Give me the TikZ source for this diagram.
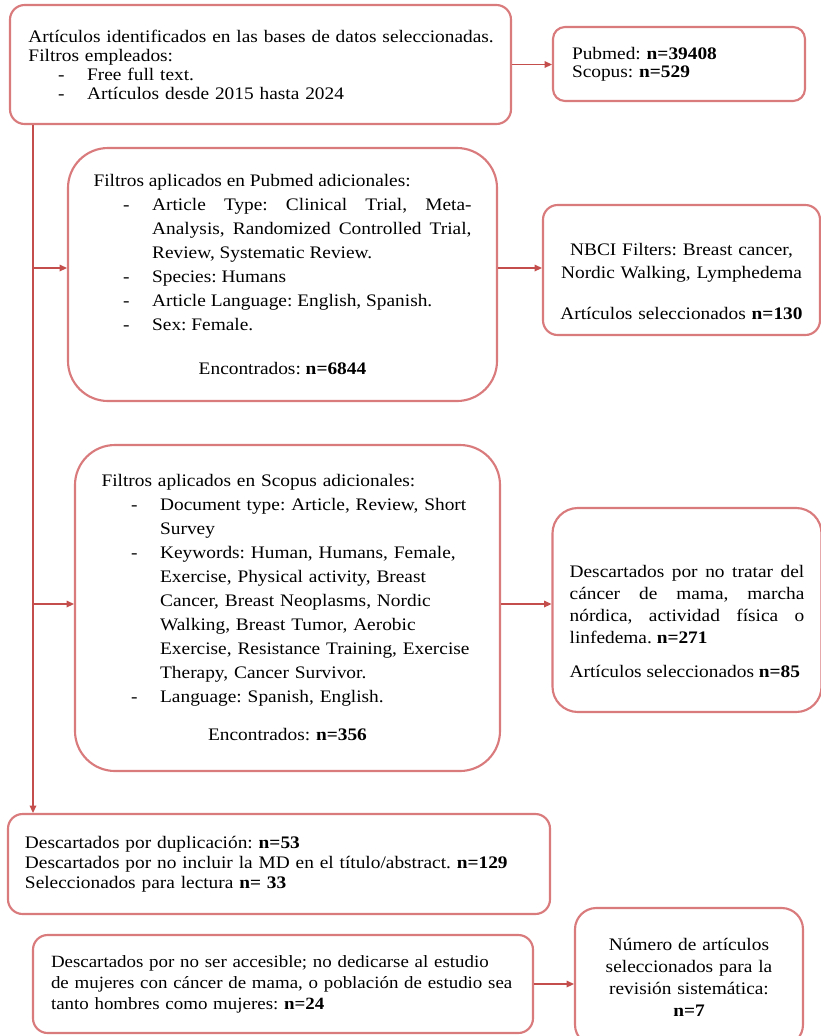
\documentclass[tikz,border=0pt]{standalone}
\usepackage{fontspec}
\setmainfont{Liberation Serif}[FakeStretch=1.1]
\usetikzlibrary{arrows.meta, positioning}
\definecolor{borde}{RGB}{217,122,124}
\definecolor{rojo}{RGB}{196,78,76}
\newcommand{\guion}[1]{\par{\leftskip=44pt\noindent\llap{-\hspace{17pt}}#1\par}}
\frenchspacing

\begin{document}
\begin{tikzpicture}[x=0.75pt, y=-0.75pt,
    caja/.style={draw=borde, line width=1.6pt, rounded corners=#1, inner sep=0pt},
    caja/.default=11pt,
    flecha/.style={draw=rojo, line width=0.9pt, -{Triangle[length=5.5pt, width=5pt]}},
    letra/.style={font=\fontsize{13.2}{#1}\selectfont}]
    \useasboundingbox (0,0) rectangle (821,1036);

    % Boxes
    \node[caja, minimum width=375.75pt, minimum height=89.25pt, text width=348pt, align=left, letra=14.25pt] (ident) at (260.5,64.5)
        {\mbox{Artículos identificados en las bases de datos seleccionadas.}\\ Filtros empleados:
         \guion{Free full text.}
         \guion{Artículos desde 2015 hasta 2024}};
    \node[caja=9pt, minimum width=189pt, minimum height=55.5pt, text width=160.5pt, align=left, letra=13.5pt] (cuentas) at (679,64)
        {Pubmed: \textbf{n=39408}\\ Scopus: \textbf{n=529}};

    \node[caja=30pt, minimum width=321.75pt, minimum height=189.75pt, text width=283.5pt, align=justify, letra=18pt] (pubmed) at (282.5,274.5)
        {Filtros aplicados en Pubmed adicionales:
         \guion{Article Type: Clinical Trial, Meta-\linebreak Analysis, Randomized Controlled Trial,\linebreak Review, Systematic Review.}
         \guion{Species: Humans}
         \guion{Article Language: English, Spanish.}
         \guion{Sex: Female.}
         \par\vspace{15pt}{\centering Encontrados: \textbf{n=6844}\par}};
    \node[caja, minimum width=207.75pt, minimum height=97.5pt, text width=190pt, align=center, letra=17pt] (nbci) at (681.5,270)
        {\rule{0pt}{27pt}NBCI Filters: Breast cancer,\\ Nordic Walking, Lymphedema\\[14pt] Artículos seleccionados \textbf{n=130}};

    \node[caja=30pt, minimum width=318.75pt, minimum height=244.5pt, text width=279pt, align=left, letra=18pt] (scopus) at (287.5,608)
        {Filtros aplicados en Scopus adicionales:
         \guion{Document type: Article, Review, Short\\ Survey}
         \guion{Keywords: Human, Humans, Female,\\ Exercise, Physical activity, Breast\\ Cancer, Breast Neoplasms, Nordic\\ Walking, Breast Tumor, Aerobic\\ Exercise, Resistance Training, Exercise\\ Therapy, Cancer Survivor.}
         \guion{Language: Spanish, English.}
         \par\vspace{10.5pt}{\centering Encontrados: \textbf{n=356}\par}};
    \node[caja=19pt, minimum width=201.75pt, minimum height=153pt, text width=176pt, align=justify, letra=16.5pt] (descarte) at (687,610)
        {\rule{0pt}{27pt}Descartados por no tratar del\linebreak cáncer de mama, marcha\linebreak nórdica, actividad física o\linebreak linfedema. \textbf{n=271}\par\vspace{9pt}
         Artículos seleccionados \textbf{n=85}};

    \node[caja, minimum width=406.5pt, minimum height=75pt, text width=381pt, align=left, letra=15pt] (duplic) at (279,864)
        {Descartados por duplicación: \textbf{n=53}\\ Descartados por no incluir la MD en el título/abstract. \textbf{n=129}\\ Seleccionados para lectura \textbf{n= 33}};
    \node[caja, minimum width=375pt, minimum height=73.5pt, text width=348pt, align=left, font=\fontsize{12.9}{15.75}\selectfont] (accesible) at (283,984)
        {Descartados por no ser accesible; no dedicarse al estudio\\ de mujeres con cáncer de mama, o población de estudio sea\\ tanto hombres como mujeres: \textbf{n=24}};
    \node[caja=16pt, minimum width=171pt, minimum height=103.5pt, text width=160pt, align=center, letra=16.5pt] (final) at (689,977)
        {Número de artículos\\ seleccionados para la\\ revisión sistemática:\\ \textbf{n=7}};

    % Connectors
    \coordinate (t1) at (33,268);
    \coordinate (t2) at (33,604);
    \draw[flecha] (ident.east) -- (ident.east -| cuentas.west);
    \draw[flecha] (ident.south -| t1) -- (duplic.north -| t1);
    \draw[flecha] (t1) -- (t1 -| pubmed.west);
    \draw[flecha] (t1 -| pubmed.east) -- (t1 -| nbci.west);
    \draw[flecha] (t2) -- (t2 -| scopus.west);
    \draw[flecha] (t2 -| scopus.east) -- (t2 -| descarte.west);
    \draw[flecha] (accesible.east) -- (accesible.east -| final.west);
\end{tikzpicture}
\end{document}
